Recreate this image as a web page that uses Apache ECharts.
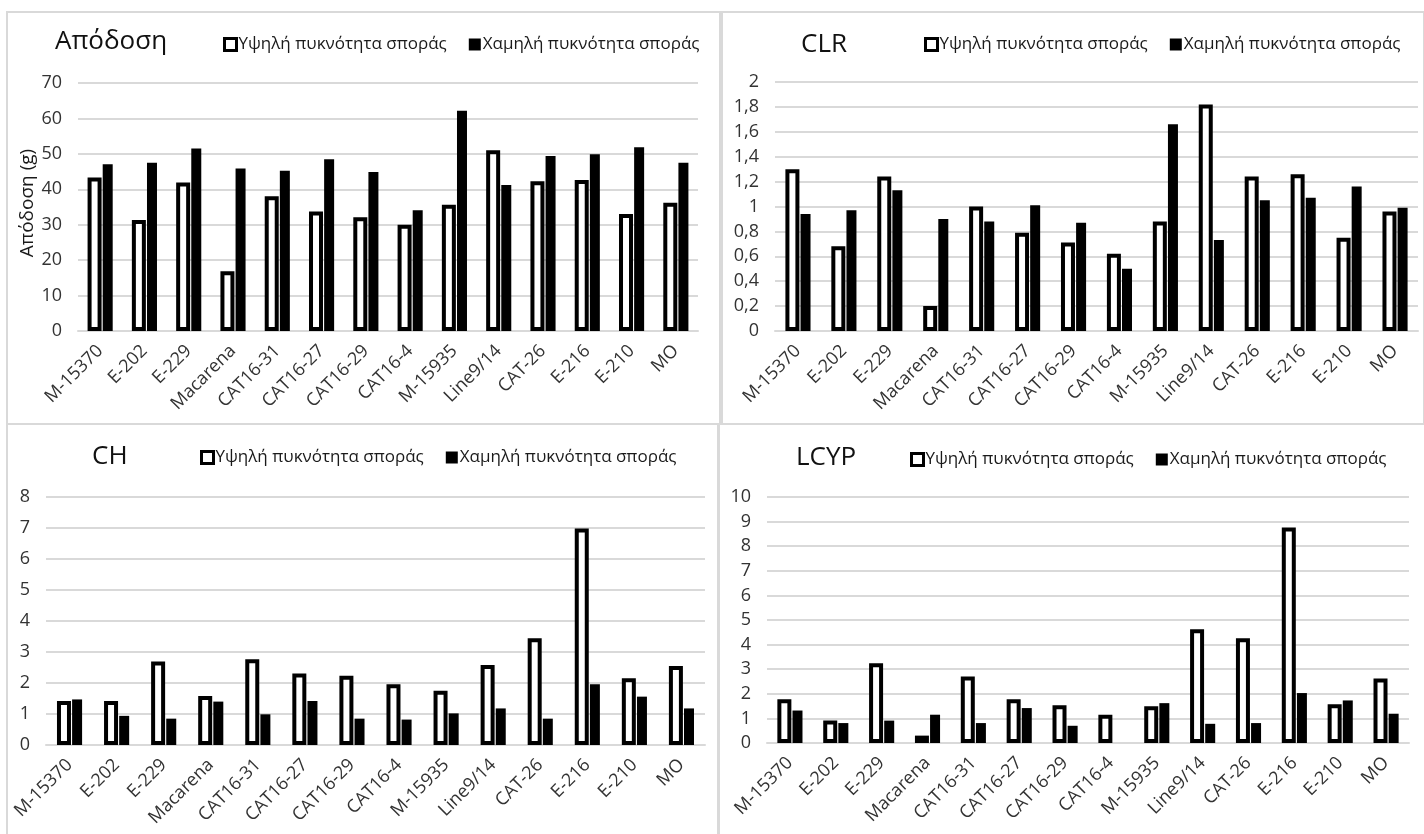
<!DOCTYPE html>
<html>
<head>
<meta charset="utf-8">
<script src="https://cdn.jsdelivr.net/npm/echarts@6/dist/echarts.min.js"></script>
<style>
html,body{margin:0;padding:0;background:#fff;}
#chart{width:1424px;height:834px;}
</style>
</head>
<body>
<div id="chart"></div>
<script>
const categories = ['M-15370','E-202','E-229','Macarena','CAT16-31','CAT16-27','CAT16-29','CAT16-4','M-15935','Line9/14','CAT-26','E-216','E-210','MO'];
const seriesNames = ['Υψηλή πυκνότητα σποράς','Χαμηλή πυκνότητα σποράς'];

const yieldHigh = [43.3,31.3,41.9,16.9,38.0,33.7,32.1,30.0,35.6,51.0,42.3,42.6,33.0,36.2];
const yieldLow  = [47.1,47.5,51.5,45.9,45.2,48.5,44.9,34.1,62.2,41.2,49.4,49.9,51.9,47.5];
const clrHigh   = [1.30,0.68,1.24,0.20,1.00,0.79,0.71,0.62,0.88,1.82,1.24,1.26,0.75,0.96];
const clrLow    = [0.94,0.97,1.13,0.90,0.88,1.01,0.87,0.50,1.66,0.73,1.05,1.07,1.16,0.99];
const chHigh    = [1.42,1.42,2.69,1.58,2.77,2.31,2.23,1.96,1.75,2.58,3.44,6.98,2.15,2.55];
const chLow     = [1.47,0.94,0.85,1.40,0.99,1.42,0.85,0.82,1.02,1.18,0.85,1.96,1.56,1.18];
const lcypHigh  = [1.78,0.91,3.24,0.30,2.70,1.78,1.53,1.15,1.49,4.62,4.26,8.76,1.58,2.62];
const lcypLow   = [1.32,0.81,0.91,1.15,0.81,1.42,0.70,null,1.62,0.78,0.81,2.03,1.73,1.19];

const titles = ['Απόδοση','CLR','CH','LCYP'];
const yAxisName = 'Απόδοση (g)';
const yRanges = [[0,70,10],[0,2,0.2],[0,8,1],[0,10,1]];

const FONT = '"Open Sans", "Noto Sans", sans-serif';

const panels = [
  {high: yieldHigh, low: yieldLow, grid:{left:78, top:83, width:620, height:248}, title:{left:55, top:29}, legend:{left:223, top:36}, frame:[7,12,713,412], yname:true},
  {high: clrHigh, low: clrLow, grid:{left:775, top:82, width:643, height:249}, title:{left:801, top:32}, legend:{left:924, top:36}, frame:[722,12,702,412], yname:false},
  {high: chHigh, low: chLow, grid:{left:46, top:497, width:659, height:248}, title:{left:92, top:444}, legend:{left:200, top:449}, frame:[7,424,711,420], yname:false},
  {high: lcypHigh, low: lcypLow, grid:{left:767, top:497, width:642, height:246}, title:{left:796, top:445}, legend:{left:910, top:451}, frame:[719,424,710,420], yname:false}
];

function fmt(v){
  const s = String(+v.toFixed(2));
  return s.replace('.', ',');
}

const option = {
  backgroundColor:'#fff',
  animation:false,
  title:[], legend:[], grid:[], xAxis:[], yAxis:[], series:[],
  graphic:[]
};

panels.forEach((p,i)=>{
  option.graphic.push({type:'rect', shape:{x:p.frame[0], y:p.frame[1], width:p.frame[2], height:p.frame[3]},
    style:{fill:'none', stroke:'#d9d9d9', lineWidth:2}, z:-1, silent:true});
  if(p.yname){
    option.graphic.push({type:'text', x:p.grid.left - 50, y:p.grid.top + p.grid.height/2 - 4, rotation:Math.PI/2,
      style:{text:yAxisName, fontFamily:FONT, fontSize:19, fill:'#1a1a1a', align:'center', verticalAlign:'middle'}, silent:true});
  }
  option.title.push({text:titles[i], left:p.title.left, top:p.title.top, padding:0,
    textStyle:{fontFamily:FONT, fontSize:26, fontWeight:'normal', color:'#111'}});
  option.legend.push({
    left:p.legend.left, top:p.legend.top, padding:0, itemGap:22, itemWidth:12, itemHeight:12,
    icon:'rect',
    data:[
      {name:seriesNames[0], itemStyle:{color:'#fff', borderColor:'#000', borderWidth:3}},
      {name:seriesNames[1], itemStyle:{color:'#000', borderWidth:0}}
    ],
    textStyle:{fontFamily:FONT, fontSize:17, color:'#1a1a1a', padding:[0,0,0,-3]},
    selectedMode:false
  });
  option.grid.push(Object.assign({outerBoundsMode:'none', containLabel:false}, p.grid));
  option.xAxis.push({
    type:'category', gridIndex:i, data:categories,
    axisTick:{show:false},
    axisLine:{lineStyle:{color:'#d9d9d9', width:2}},
    axisLabel:{interval:0, rotate:45, margin:17, fontFamily:FONT, fontSize:18, color:'#333'}
  });
  const r = yRanges[i];
  option.yAxis.push({
    type:'value', gridIndex:i, min:r[0], max:r[1], interval:r[2],
    axisLine:{show:false}, axisTick:{show:false},
    splitLine:{lineStyle:{color:'#d9d9d9', width:2}},
    axisLabel:{margin:16, fontFamily:FONT, fontSize:18, color:'#333', formatter:fmt}
  });
  option.series.push({
    type:'bar', name:seriesNames[0], xAxisIndex:i, yAxisIndex:i, data:p.high,
    barWidth:14, barGap:'8%',
    itemStyle:{color:'#fff', borderColor:'#000', borderWidth:4}
  });
  option.series.push({
    type:'bar', name:seriesNames[1], xAxisIndex:i, yAxisIndex:i, data:p.low,
    barWidth:10, barGap:'8%',
    itemStyle:{color:'#000'}
  });
});

const chart = echarts.init(document.getElementById('chart'), null, {renderer:'canvas'});
chart.setOption(option);
</script>
</body>
</html>
